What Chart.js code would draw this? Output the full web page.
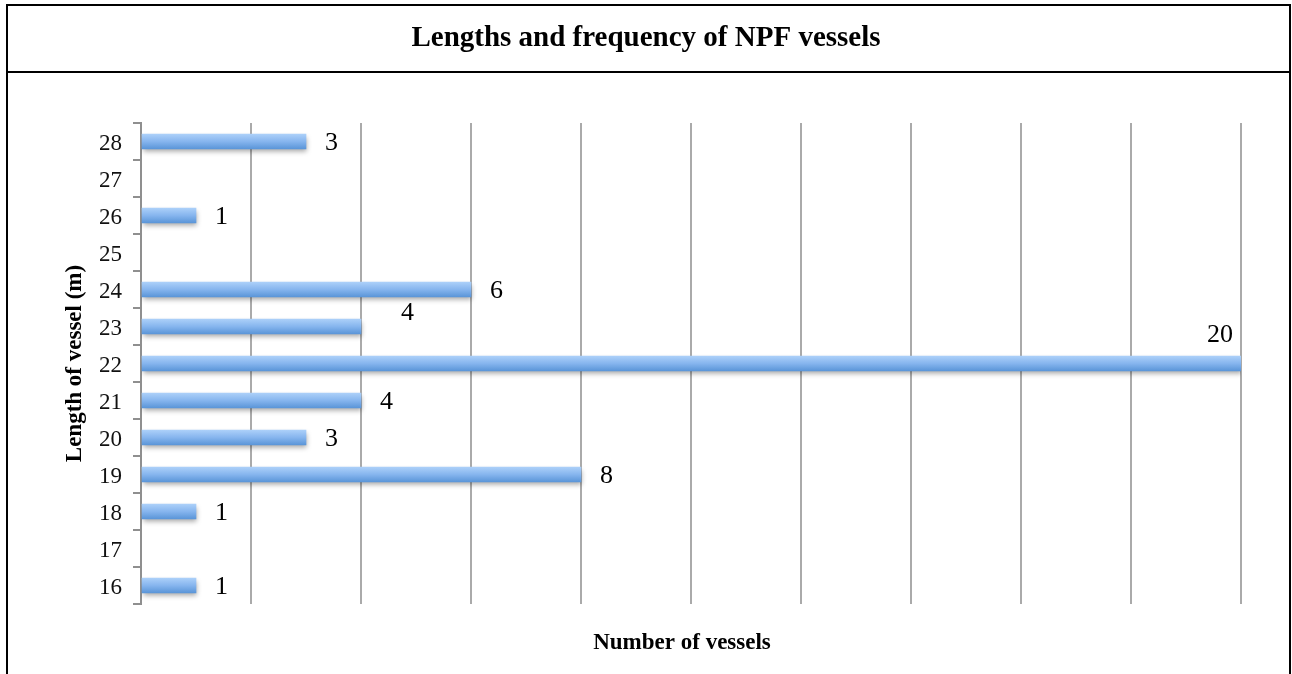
<!DOCTYPE html>
<html>
<head>
<meta charset="utf-8">
<script src="https://cdn.jsdelivr.net/npm/chart.js@4.4.1/dist/chart.umd.min.js"></script>
<style>
  html, body { margin: 0; padding: 0; background: #fff; }
  #wrap { position: relative; width: 1292px; height: 674px; }
</style>
</head>
<body>
<div id="wrap"><canvas id="c"></canvas></div>
<script>
// Vessel lengths (m) and how many vessels have each length
const lengths = ['16', '17', '18', '19', '20', '21', '22', '23', '24', '25', '26', '27', '28'];
const counts  = [1, null, 1, 8, 3, 4, 20, 4, 6, null, 1, null, 3];
const xTicks  = [0, 2, 4, 6, 8, 10, 12, 14, 16, 18, 20];

const chartTitle = 'Lengths and frequency of NPF vessels';
const xTitle = 'Number of vessels';
const yTitle = 'Length of vessel (m)';

const SERIF = '"Liberation Serif", "Times New Roman", serif';

// Frame lines, the heading strip above the plot and the horizontal axis caption
const framePlugin = {
  id: 'frame',
  beforeDraw(chart) {
    const ctx = chart.ctx;
    const W = chart.width, H = chart.height;
    ctx.save();
    ctx.fillStyle = '#ffffff';
    ctx.fillRect(0, 0, W, H);
    ctx.strokeStyle = '#000000';
    ctx.lineWidth = 2;
    ctx.beginPath();
    ctx.moveTo(7, 5); ctx.lineTo(7, H);
    ctx.moveTo(1290, 5); ctx.lineTo(1290, H);
    ctx.moveTo(6, 5); ctx.lineTo(1291, 5);
    ctx.moveTo(6, 72); ctx.lineTo(1291, 72);
    ctx.stroke();
    ctx.fillStyle = '#000000';
    ctx.font = 'bold 29px ' + SERIF;
    ctx.textAlign = 'center';
    ctx.textBaseline = 'middle';
    ctx.fillText(chartTitle, W / 2, 39);
    ctx.font = 'bold 23px ' + SERIF;
    ctx.fillText(xTitle, 682, 643);
    ctx.restore();
  }
};

// Soft drop shadow under the bars
const shadowPlugin = {
  id: 'barShadow',
  beforeDatasetsDraw(chart) {
    const ctx = chart.ctx;
    ctx.save();
    ctx.shadowColor = 'rgba(0,0,0,0.35)';
    ctx.shadowBlur = 5;
    ctx.shadowOffsetX = 1;
    ctx.shadowOffsetY = 3;
  },
  afterDatasetsDraw(chart) {
    chart.ctx.restore();
  }
};

// Value labels beside each bar
const valueLabelPlugin = {
  id: 'valueLabels',
  afterDraw(chart, args, opts) {
    const ctx = chart.ctx;
    const meta = chart.getDatasetMeta(0);
    const data = chart.data.datasets[0].data;
    ctx.save();
    ctx.fillStyle = '#000000';
    ctx.font = '26px ' + SERIF;
    ctx.textBaseline = 'middle';
    meta.data.forEach((bar, i) => {
      const v = data[i];
      if (v === null || v === undefined) return;
      const nudge = (opts.nudge || {})[chart.data.labels[i]] || {};
      const dx = nudge.dx !== undefined ? nudge.dx : opts.gap;
      const dy = (nudge.dy || 0) + opts.lift;
      ctx.textAlign = nudge.align || 'left';
      ctx.fillText(String(v), bar.x + dx, bar.y + dy);
    });
    ctx.restore();
  }
};

// Vertical light-to-dark blue fill across each bar's thickness
function barGradient(context) {
  const chart = context.chart;
  const yScale = chart.scales && chart.scales.y;
  if (!yScale || context.dataIndex === undefined) return '#86b5ee';
  const yc = yScale.getPixelForValue(context.dataIndex);
  if (!Number.isFinite(yc)) return '#86b5ee';
  const g = chart.ctx.createLinearGradient(0, yc - 7.5, 0, yc + 7.5);
  g.addColorStop(0, '#acd0f9');
  g.addColorStop(0.5, '#86b5ee');
  g.addColorStop(1, '#5a95d8');
  return g;
}

new Chart(document.getElementById('c'), {
  type: 'bar',
  data: {
    labels: lengths,
    datasets: [{
      data: counts,
      backgroundColor: barGradient,
      borderWidth: 0,
      barThickness: 15
    }]
  },
  options: {
    indexAxis: 'y',
    responsive: true,
    maintainAspectRatio: false,
    animation: false,
    layout: { padding: { top: 123, right: 51, bottom: 0, left: 0 } },
    plugins: {
      legend: { display: false },
      title: { display: false },
      tooltip: { enabled: false },
      valueLabels: {
        gap: 19,
        lift: 2,
        nudge: {
          '23': { dx: 40, dy: -15 },
          '22': { dx: -8, dy: -30, align: 'right' }
        }
      }
    },
    scales: {
      x: {
        min: xTicks[0],
        max: xTicks[xTicks.length - 1],
        afterBuildTicks(scale) { scale.ticks = xTicks.map(v => ({ value: v })); },
        afterFit(scale) { scale.height = 70; },
        ticks: { display: false },
        grid: { color: '#aaaaaa', lineWidth: 2, drawTicks: false },
        border: { display: false },
        title: { display: false }
      },
      y: {
        reverse: true,
        afterFit(scale) { scale.width = 141; },
        ticks: {
          color: '#111111',
          padding: 11,
          labelOffset: 2,
          font: { family: SERIF, size: 23 }
        },
        grid: { drawOnChartArea: false, drawTicks: true, tickLength: 8, color: '#8f8f8f', lineWidth: 2 },
        border: { display: true, color: '#8f8f8f', width: 2 },
        title: {
          display: true,
          text: yTitle,
          color: '#000000',
          font: { family: SERIF, size: 23, weight: 'bold' },
          padding: { top: 61, bottom: 0 }
        }
      }
    }
  },
  plugins: [framePlugin, shadowPlugin, valueLabelPlugin]
});
</script>
</body>
</html>
